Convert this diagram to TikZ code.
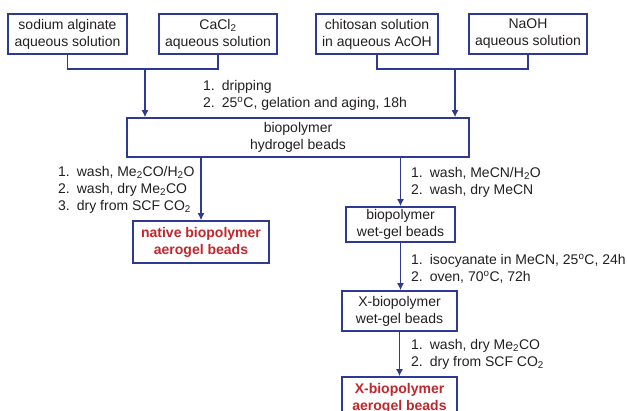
\documentclass[tikz,border=0pt]{standalone}
\usepackage{fontspec}
\setmainfont{Liberation Sans}
\usepackage{xcolor}
\usetikzlibrary{arrows.meta}
\definecolor{boxblue}{RGB}{46,57,145}
\definecolor{beadred}{RGB}{192,39,45}
\definecolor{inkgray}{RGB}{35,31,32}
\tikzset{
	box/.style={shape=rectangle, draw=boxblue, line width=1.6pt, inner sep=0, align=center, text=inkgray, font=\fontsize{14}{17}\selectfont},
	redbox/.style={box, text=beadred, font=\fontsize{14}{17}\selectfont\bfseries},
	note/.style={anchor=west, inner sep=0, align=left, text=inkgray, font=\fontsize{14}{17}\selectfont},
	flow/.style={draw=boxblue, line width=1.6pt},
	flowarrow/.style={flow, -{Latex[length=7pt, width=7pt]}}
}
\begin{document}
\begin{tikzpicture}[x=1pt, y=-1pt]
	% Boxes, notes and arrows:
	\useasboundingbox (0, 0) rectangle (627, 411);
	\node[box, minimum width=119pt, minimum height=40pt] (SodAlg) at (67.5, 34) {sodium alginate\\aqueous solution};
	\node[box, minimum width=118pt, minimum height=40pt] (CaCl) at (218, 34) {CaCl\textsubscript{2}\\aqueous solution};
	\node[box, minimum width=122pt, minimum height=40pt] (Chito) at (377, 34) {chitosan solution\\in aqueous AcOH};
	\node[box, minimum width=118pt, minimum height=40pt] (NaOH) at (528, 34) {NaOH\\aqueous solution};
	\node[box, minimum width=342pt, minimum height=39pt] (Hydro) at (298, 137.5) {biopolymer\\hydrogel beads};
	\node[redbox, minimum width=136pt, minimum height=42pt] (Native) at (201, 242) {native biopolymer\\aerogel beads};
	\node[box, minimum width=109pt, minimum height=35pt] (WetGel) at (400.5, 224.5) {biopolymer\\wet-gel beads};
	\node[box, minimum width=115pt, minimum height=40pt] (XWetGel) at (399.5, 311) {X-biopolymer\\wet-gel beads};
	\node[redbox, minimum width=115pt, minimum height=42pt] (XAero) at (399.5, 398) {X-biopolymer\\aerogel beads};
	\coordinate (JoinL) at (145, 69);
	\coordinate (JoinR) at (455, 69);
	\draw[flow] (SodAlg.south) |- (JoinL) -| (CaCl.south);
	\draw[flow] (Chito.south) |- (JoinR) -| (NaOH.south);
	\draw[flowarrow] (JoinL) -- (JoinL |- Hydro.north);
	\draw[flowarrow] (JoinR) -- (JoinR |- Hydro.north);
	\draw[flowarrow] (Native.north |- Hydro.south) -- (Native.north);
	\draw[flowarrow] (WetGel.north |- Hydro.south) -- (WetGel.north);
	\draw[flowarrow] (WetGel.south) -- (WetGel.south |- XWetGel.north);
	\draw[flowarrow] (XWetGel.south) -- (XWetGel.south |- XAero.north);
	\node[note] (NoteDrip) at (203, 95.5) {1.\enspace dripping\\2.\enspace 25\textsuperscript{o}C, gelation and aging, 18h};
	\node[note] (NoteNative) at (58, 190) {1.\enspace wash, Me\textsubscript{2}CO/H\textsubscript{2}O\\2.\enspace wash, dry Me\textsubscript{2}CO\\3.\enspace dry from SCF CO\textsubscript{2}};
	\node[note] (NoteMeCN) at (411, 182.5) {1.\enspace wash, MeCN/H\textsubscript{2}O\\2.\enspace wash, dry MeCN};
	\node[note] (NoteIso) at (411, 268.5) {1.\enspace isocyanate in MeCN, 25\textsuperscript{o}C, 24h\\2.\enspace oven, 70\textsuperscript{o}C, 72h};
	\node[note] (NoteDry) at (411, 354.5) {1.\enspace wash, dry Me\textsubscript{2}CO\\2.\enspace dry from SCF CO\textsubscript{2}};
\end{tikzpicture}
\end{document}
